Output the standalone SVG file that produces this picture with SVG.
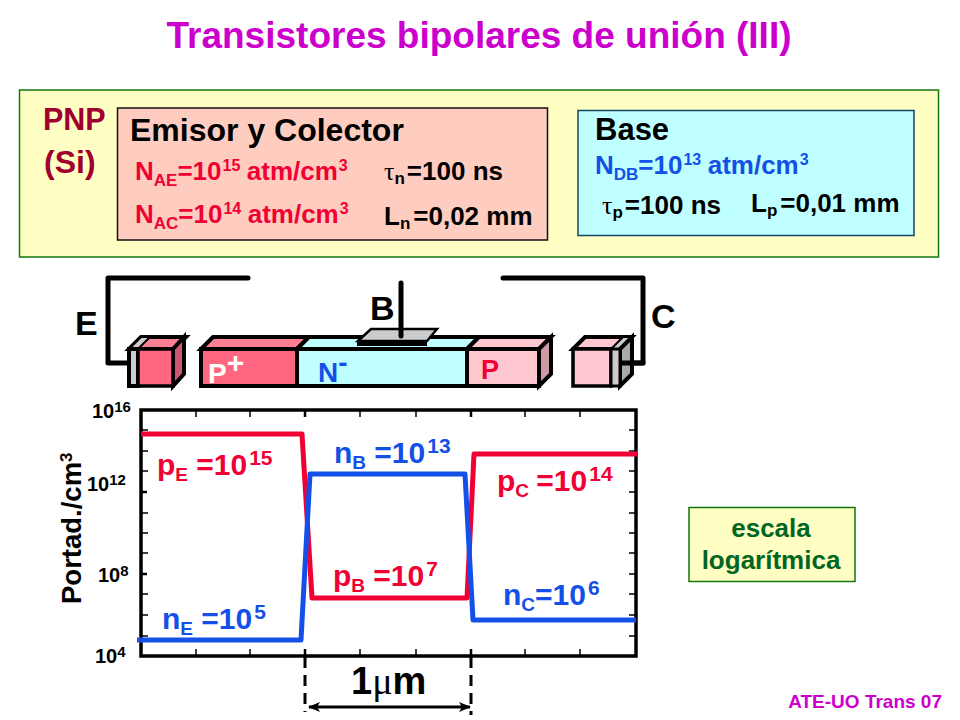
<svg xmlns="http://www.w3.org/2000/svg" width="960" height="720" viewBox="0 0 960 720">
<style>
text{font-family:"Liberation Sans",Arial,sans-serif;font-weight:bold}
.s{font-family:"Liberation Serif","Times New Roman",serif}
.r{fill:#f00033}.b{fill:#1450e8}.k{fill:#000}.d{fill:#a00030}.w{fill:#fff}
.l{stroke:#000;stroke-width:4;stroke-linejoin:miter}
.wire{fill:none;stroke:#000;stroke-width:5;stroke-linecap:round;stroke-linejoin:round}
.t{stroke:#000;stroke-width:1.5;fill:none}
.T{stroke:#000;stroke-width:3.5;fill:none}
.c{fill:none;stroke-width:5;stroke-linejoin:round}
.dash{stroke:#000;stroke-width:3;stroke-dasharray:11 7;fill:none}
</style>
<defs>
<marker id="ah" viewBox="0 0 12 10" refX="11" refY="5" markerWidth="12" markerHeight="10" markerUnits="userSpaceOnUse" orient="auto-start-reverse"><path d="M0 0L12 5L0 10L3 5Z" fill="#000"/></marker>
</defs>
<rect width="960" height="720" fill="#fff"/>
<text id="title" x="479" y="48" font-size="37" text-anchor="middle" fill="#cc00cc">Transistores bipolares de unión (III)</text>

<g id="panel"><rect x="19.500" y="90" width="919" height="167" fill="#ffffc4" stroke="#117711" stroke-width="1.500"/>
<text x="43" y="130" font-size="30.500" class="d">PNP</text>
<text x="44" y="173" font-size="32" class="d">(Si)</text></g>

<g id="emisor"><rect x="117.500" y="108" width="430" height="132" fill="#ffccc0" stroke="#111" stroke-width="1.500"/>
<text x="130" y="141" font-size="32" class="k">Emisor y Colector</text>
<text x="135" y="180" font-size="26" class="r">N<tspan font-size="17" dy="6">AE</tspan><tspan dy="-6">=10</tspan><tspan font-size="16" dy="-9" dx="1">15 </tspan><tspan dy="9" dx="2">atm/cm</tspan><tspan font-size="16" dy="-9" dx="1">3</tspan></text>
<text x="135" y="223" font-size="26" class="r">N<tspan font-size="17" dy="6">AC</tspan><tspan dy="-6">=10</tspan><tspan font-size="16" dy="-9" dx="1">14 </tspan><tspan dy="9" dx="2">atm/cm</tspan><tspan font-size="16" dy="-9" dx="1">3</tspan></text>
<text x="384" y="180" font-size="26" class="k"><tspan class="s" font-weight="normal">τ</tspan><tspan font-size="17" dy="4">n</tspan><tspan dy="-4" dx="2">=100 ns</tspan></text>
<text x="384" y="225" font-size="26" class="k">L<tspan font-size="17" dy="4">n</tspan><tspan dy="-4" dx="3">=0,02 mm</tspan></text></g>

<g id="base"><rect x="578" y="110.500" width="336" height="125" fill="#c0ffff" stroke="#114466" stroke-width="1.500"/>
<text x="595" y="140" font-size="31" class="k">Base</text>
<text x="595" y="174" font-size="26" class="b">N<tspan font-size="17" dy="6">DB</tspan><tspan dy="-6">=10</tspan><tspan font-size="16" dy="-9" dx="1">13 </tspan><tspan dy="9" dx="2">atm/cm</tspan><tspan font-size="16" dy="-9" dx="1">3</tspan></text>
<text x="602" y="214" font-size="26" class="k"><tspan class="s" font-weight="normal">τ</tspan><tspan font-size="17" dy="4">p</tspan><tspan dy="-4" dx="2">=100 ns</tspan></text>
<text x="751" y="212" font-size="26" class="k">L<tspan font-size="17" dy="4">p</tspan><tspan dy="-4" dx="3">=0,01 mm</tspan></text></g>

<g id="connectors">
<path class="wire" d="M248 278H108V363H128"/>
<path class="wire" d="M503 278H643V363H623"/>
<path class="wire" d="M401 283V336" stroke-linecap="butt"/>
</g>

<g id="device">
<g id="emitter-contact">
<path class="l" d="M129 349L141 337H186L174 349Z" fill="#ff8094"/>
<path d="M129 349L141 337H150L138 349Z" fill="#cccccc" stroke="#000" stroke-width="2"/>
<path class="l" d="M173 349L184 337V374L173 386Z" fill="#cc5870"/>
<rect x="129" y="349" width="9" height="37" fill="#cccccc" class="l" stroke-width="3"/>
<rect x="138" y="349" width="35" height="37" fill="#ff6680" stroke="#000" stroke-width="3.500"/>
</g>
<g id="bar">
<path class="l" d="M201 349L213 337H309L297 349Z" fill="#ff8094"/>
<path class="l" d="M297 349L309 337H479L467 349Z" fill="#c0ffff"/>
<path class="l" d="M467 349L479 337H551L539 349Z" fill="#ffc8d0"/>
<path class="l" d="M539 349L551 337V374L539 386Z" fill="#cc9aa4"/>
<rect class="l" x="201" y="349" width="96" height="37" fill="#ff6680"/>
<rect class="l" x="297" y="349" width="170" height="37" fill="#c0ffff"/>
<rect class="l" x="467" y="349" width="72" height="37" fill="#ffc8d0"/>
</g>
<g id="base-contact">
<path d="M358 341L371 329H437L427 341Z" fill="#cccccc" stroke="#000" stroke-width="2.500"/>
<rect x="357" y="342" width="70" height="4" fill="#000"/>
<path class="wire" d="M401 330V336" stroke-linecap="butt"/>
</g>
<g id="collector-contact">
<path class="l" d="M573 349L585 337H632L620 349Z" fill="#ffc8d0"/>
<path d="M611 349L623 337H632L620 349Z" fill="#cccccc" stroke="#000" stroke-width="2"/>
<path class="l" d="M620 349L632 337V374L620 386Z" fill="#aaaaaa"/>
<rect x="573" y="349" width="38" height="37" fill="#ffc8d0" stroke="#000" stroke-width="3.500"/>
<rect x="611" y="349" width="9" height="37" fill="#cccccc" stroke="#000" stroke-width="3"/>
</g>
<text x="75" y="335" font-size="34" class="k">E</text>
<text x="370" y="320" font-size="34" class="k">B</text>
<text x="651" y="328" font-size="34" class="k">C</text>
<text x="208" y="383" font-size="28" class="w">P<tspan font-size="30" dy="-10">+</tspan></text>
<text x="318" y="382" font-size="28" class="b">N<tspan dy="-10">-</tspan></text>
<text x="481" y="379" font-size="27" class="r">P</text>
<path class="wire" d="M622 363H643" />
</g>

<g id="chart">
<path class="t" d="M196 410v7M250 410v7M360 410v7M416 410v7M525 410v7M580 410v7M196 656v-7M250 656v-7M360 656v-7M416 656v-7M525 656v-7M580 656v-7M141 430h7M141 451h7M141 471h7M141 513h7M141 533h7M141 553h7M141 594h7M141 615h7M141 636h7M636 430h-7M636 451h-7M636 471h-7M636 492h-7M636 513h-7M636 533h-7M636 553h-7M636 574h-7M636 594h-7M636 615h-7M636 636h-7"/>
<path d="M305 410v7M471 410v7M305 656v-7M471 656v-7M141 492h6M141 574h6" stroke="#000" stroke-width="2.500" fill="none"/>
<rect class="T" x="141" y="410" width="495" height="246"/>
<path class="c" stroke="#f00033" d="M141 434H302L312 598H467L474 454H638"/>
<path class="c" stroke="#1450e8" d="M137 640H301L310 474H465L473 620H636"/>
<g font-size="20" class="k">
<text x="92" y="418">10<tspan font-size="15" dy="-6">16</tspan></text>
<text x="87" y="491">10<tspan font-size="15" dy="-6">12</tspan></text>
<text x="98" y="582">10<tspan font-size="15" dy="-6">8</tspan></text>
<text x="95" y="663">10<tspan font-size="15" dy="-6">4</tspan></text>
</g>
<text transform="translate(81,604) rotate(-90)" font-size="27.500" class="k">Portad./cm<tspan font-size="17" dy="-9">3</tspan></text>
<g font-size="30">
<text x="157" y="475" class="r">p<tspan font-size="19" dy="6">E </tspan><tspan dy="-6" dx="3">=10</tspan><tspan font-size="21" dy="-10" dx="2">15</tspan></text>
<text x="162" y="629" class="b">n<tspan font-size="19" dy="6">E </tspan><tspan dy="-6" dx="3">=10</tspan><tspan font-size="21" dy="-10" dx="2">5</tspan></text>
<text x="334" y="463" class="b">n<tspan font-size="19" dy="6">B </tspan><tspan dy="-6" dx="3">=10</tspan><tspan font-size="21" dy="-10" dx="2">13</tspan></text>
<text x="333" y="586" class="r">p<tspan font-size="19" dy="6">B </tspan><tspan dy="-6" dx="3">=10</tspan><tspan font-size="21" dy="-10" dx="2">7</tspan></text>
<text x="497" y="491" class="r">p<tspan font-size="19" dy="6">C </tspan><tspan dy="-6" dx="2">=10</tspan><tspan font-size="21" dy="-10" dx="2">14</tspan></text>
<text x="503" y="605" class="b">n<tspan font-size="19" dy="6">C</tspan><tspan dy="-6">=10</tspan><tspan font-size="21" dy="-10" dx="2">6</tspan></text>
</g>
<path class="dash" d="M305 657V712M471 657V715"/>
<path d="M309 707H470" stroke="#000" stroke-width="3" fill="none" marker-start="url(#ah)" marker-end="url(#ah)"/>
<text x="351" y="694" font-size="38" class="k">1<tspan class="s" font-weight="normal">μ</tspan>m</text>
</g>

<g id="escala"><rect x="689" y="507.500" width="166" height="74" fill="#ffffc4" stroke="#117711" stroke-width="1.500"/>
<text x="771" y="537" font-size="26" text-anchor="middle" fill="#006622">escala</text>
<text x="771" y="569" font-size="26" text-anchor="middle" fill="#006622">logarítmica</text></g>
<text id="footer" x="942" y="708" font-size="19" text-anchor="end" fill="#cc00cc">ATE-UO Trans 07</text>
</svg>
